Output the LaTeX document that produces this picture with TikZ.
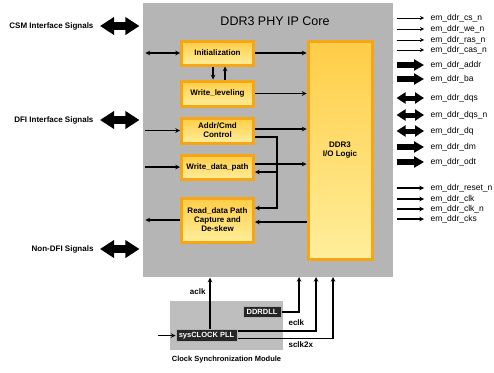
\documentclass[tikz,border=0pt]{standalone}
\usepackage{fontspec}
\setmainfont{Liberation Sans}
\usetikzlibrary{arrows.meta,positioning}

\definecolor{coregray}{RGB}{181,181,181}
\definecolor{modgray}{RGB}{190,190,190}
\definecolor{blkedge}{RGB}{246,166,20}
\definecolor{blktop}{RGB}{255,205,70}
\definecolor{blkbot}{RGB}{255,238,155}

\begin{document}
\begin{tikzpicture}[
        x=1pt, y=-1pt, >=stealth, line width=1.1pt,
        blk/.style={draw=blkedge, line width=3pt, top color=blktop, bottom color=blkbot,
          minimum width=72pt, align=center, inner sep=0pt, font=\bfseries\fontsize{8}{9}\selectfont},
        chip/.style={draw=gray!60, fill=black!85, text=white, inner sep=0pt, line width=1pt,
          font=\bfseries\fontsize{7.5}{8}\selectfont},
        lbl/.style={inner sep=0pt, font=\bfseries\fontsize{8}{9}\selectfont},
        sig/.style={anchor=west, inner sep=0pt, font=\fontsize{8.5}{9}\selectfont},
        thin/.style={line width=0.8pt},
        fat/.style={line width=5.5pt, -{Triangle[length=10pt,width=11pt]}},
        fatdbl/.style={line width=5pt, {Triangle[length=9pt,width=11pt]}-{Triangle[length=9pt,width=11pt]}},
        big/.style={line width=8pt, {Triangle[length=14pt,width=17pt]}-{Triangle[length=14pt,width=17pt]}}
      ]
        \useasboundingbox (0,0) rectangle (494,372);
        \node[fill=coregray, minimum width=250pt, minimum height=274pt, inner sep=0pt] (core) at (268,140) {};
        \node[font=\fontsize{12.5}{14}\selectfont] (ttl) at (275,21) {DDR3 PHY IP Core};

        \node[blk, minimum height=24pt] (init) at (217.5,53) {Initialization};
        \node[blk, minimum height=25pt] (wlev) at (217.5,93.5) {Write\_leveling};
        \node[blk, minimum height=25pt] (addr) at (217.5,130.5) {Addr/Cmd\\Control};
        \node[blk, minimum height=24pt] (wdp) at (217.5,167) {Write\_data\_path};
        \node[blk, minimum height=44pt] (rdp) at (217.5,220) {Read\_data Path\\Capture and\\De-skew};
        \node[blk, minimum width=64pt, minimum height=218pt] (iol) at (340,150) {DDR3\\I/O Logic};

        \node[lbl, anchor=east] (csm) at (94,26) {CSM Interface Signals};
        \node[lbl, anchor=east] (dfi) at (94,120) {DFI Interface Signals};
        \node[lbl, anchor=east] (ndfi) at (94,249) {Non-DFI Signals};
        \draw[big] ([xshift=6pt]csm.east) -- ([xshift=-3pt]csm.east -| core.west);
        \draw[big] ([xshift=6pt]dfi.east) -- ([xshift=-3pt]dfi.east -| core.west);
        \draw[big] ([xshift=6pt]ndfi.east) -- ([xshift=-3pt]ndfi.east -| core.west);

        \draw[<->] ([xshift=3pt]core.west |- init) -- (init);
        \draw[->] ([xshift=3pt]core.west |- addr) -- (addr);
        \draw[->] ([xshift=3pt]core.west |- wdp) -- (wdp);
        \draw[->] (rdp) -- ([xshift=3pt]core.west |- rdp);
        \draw[->] ([xshift=-4.5pt]init.south) -- ([xshift=-4.5pt]wlev.north);
        \draw[->] ([xshift=7.5pt]wlev.north) -- ([xshift=7.5pt]init.south);

        \draw[->] (init) -- (init -| iol.west);
        \draw[->] (wlev) -- (wlev -| iol.west);
        \draw[->] ([yshift=1.5pt]addr.east) -- ([yshift=1.5pt]addr.east -| iol.west);
        \draw[->] ([yshift=3pt]wdp.east) -- ([yshift=3pt]wdp.east -| iol.west);
        \draw[->] ([yshift=-2pt]rdp.east -| iol.west) -- ([yshift=-2pt]rdp.east);
        \coordinate (bus) at (277,208);
        \coordinate (wdpin) at ([yshift=-5pt]wdp.east);
        \draw[->] ([yshift=-6.5pt]addr.east) -| (bus) -- (bus -| rdp.east);
        \draw[->] (bus |- wdpin) -- (wdpin);

        \node[sig] (cs) at (430,18) {em\_ddr\_cs\_n};
        \node[sig] (we) at (430,29) {em\_ddr\_we\_n};
        \node[sig] (ras) at (430,40) {em\_ddr\_ras\_n};
        \node[sig] (cas) at (430,50) {em\_ddr\_cas\_n};
        \node[sig] (ad) at (430,65) {em\_ddr\_addr};
        \node[sig] (ba) at (430,79) {em\_ddr\_ba};
        \node[sig] (dqs) at (430,98) {em\_ddr\_dqs};
        \node[sig] (dqsn) at (430,115) {em\_ddr\_dqs\_n};
        \node[sig] (dq) at (430,131) {em\_ddr\_dq};
        \node[sig] (dm) at (430,147) {em\_ddr\_dm};
        \node[sig] (odt) at (430,162) {em\_ddr\_odt};
        \node[sig] (rst) at (430,188) {em\_ddr\_reset\_n};
        \node[sig] (ck) at (430,199) {em\_ddr\_clk};
        \node[sig] (ckn) at (430,209) {em\_ddr\_clk\_n};
        \node[sig] (cks) at (430,219) {em\_ddr\_cks};
        \draw[->, thin] ([xshift=3pt]core.east |- cs) -- ([xshift=-6pt]cs.west);
        \draw[->, thin] ([xshift=3pt]core.east |- we) -- ([xshift=-6pt]we.west);
        \draw[->, thin] ([xshift=3pt]core.east |- ras) -- ([xshift=-6pt]ras.west);
        \draw[->, thin] ([xshift=3pt]core.east |- cas) -- ([xshift=-6pt]cas.west);
        \draw[fat] ([xshift=3pt]core.east |- ad) -- ([xshift=-6pt]ad.west);
        \draw[fat] ([xshift=3pt]core.east |- ba) -- ([xshift=-6pt]ba.west);
        \draw[fatdbl] ([xshift=3pt]core.east |- dqs) -- ([xshift=-6pt]dqs.west);
        \draw[fatdbl] ([xshift=3pt]core.east |- dqsn) -- ([xshift=-6pt]dqsn.west);
        \draw[fatdbl] ([xshift=3pt]core.east |- dq) -- ([xshift=-6pt]dq.west);
        \draw[fat] ([xshift=3pt]core.east |- dm) -- ([xshift=-6pt]dm.west);
        \draw[fat] ([xshift=3pt]core.east |- odt) -- ([xshift=-6pt]odt.west);
        \draw[->] ([xshift=3pt]core.east |- rst) -- ([xshift=-6pt]rst.west);
        \draw[->] ([xshift=3pt]core.east |- ck) -- ([xshift=-6pt]ck.west);
        \draw[->] ([xshift=3pt]core.east |- ckn) -- ([xshift=-6pt]ckn.west);
        \draw[->] ([xshift=3pt]core.east |- cks) -- ([xshift=-6pt]cks.west);

        \node[fill=modgray, minimum width=113pt, minimum height=49pt, inner sep=0pt] (clk) at (226.5,325.5) {};
        \node[lbl, font=\bfseries\fontsize{7.5}{8}\selectfont, below=5pt of clk] (csmod) {Clock Synchronization Module};
        \node[chip, minimum width=61pt, minimum height=12pt] (pll) at (206.5,335.5) {sysCLOCK PLL};
        \node[chip, minimum width=38pt, minimum height=11pt] (dll) at (262,312) {DDRDLL};
        \coordinate (clkin) at (158,335.5);
        \coordinate (eck) at (299,277);
        \coordinate (sck) at (316,277);
        \coordinate (s2x) at (333,277);
        \draw[->] (clkin) -- (pll);
        \draw[->] ([xshift=3.5pt]pll.north) -- ([xshift=3.5pt]pll.north |- core.south);
        \draw[->] (dll) -| (eck);
        \draw[->] ([yshift=4.5pt]pll.east) -| (sck);
        \draw[->] ([yshift=-3pt]pll.east) -| (s2x);
        \node[lbl, anchor=east] (aclk) at (206,292) {aclk};
        \node[lbl, anchor=west] (eclk) at (288,323) {eclk};
        \node[lbl, anchor=west] (sclk) at (288,345) {sclk2x};
      \end{tikzpicture}
\end{document}
